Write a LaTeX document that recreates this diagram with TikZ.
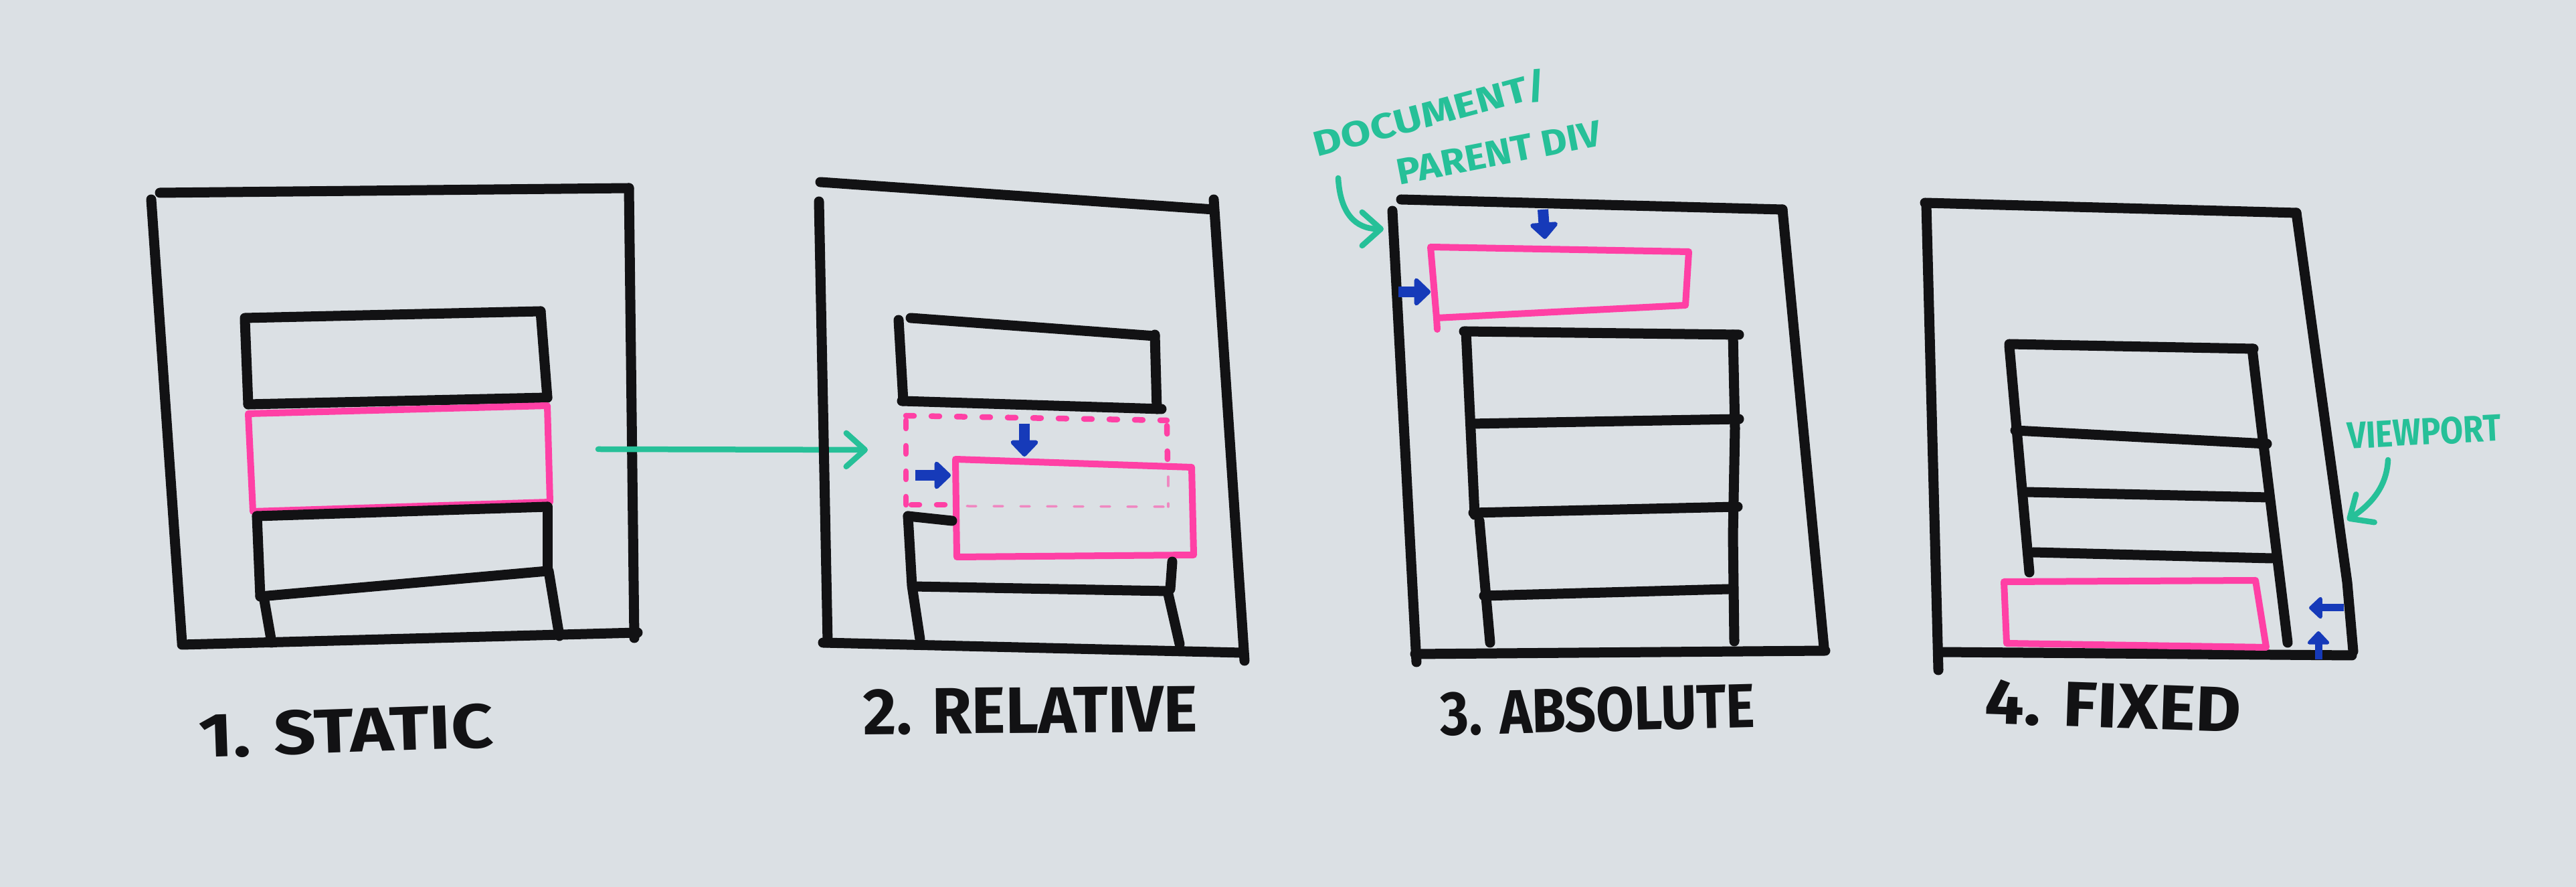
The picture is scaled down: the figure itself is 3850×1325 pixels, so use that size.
\documentclass[tikz,border=0pt]{standalone}
\usepackage{fontspec}
\setmainfont{Fira Sans}
\usepackage{graphicx}
\usetikzlibrary{arrows.meta}
\definecolor{boardbg}{RGB}{219,224,228}
\definecolor{inkblack}{RGB}{18,18,20}
\definecolor{markpink}{RGB}{255,64,165}
\definecolor{markteal}{RGB}{38,192,152}
\definecolor{markblue}{RGB}{22,58,185}
\tikzset{
  ink/.style={draw=inkblack, line width=1.5mm, line cap=round, line join=round},
  pinkink/.style={draw=markpink, line width=1mm, line cap=round, line join=round},
  pinkdash/.style={draw=markpink, line width=0.85mm, line cap=round, dash pattern=on 1.2mm off 2.6mm},
  pinkfaint/.style={draw=markpink!55!boardbg, line width=0.35mm, line cap=round, dash pattern=on 1.4mm off 2.6mm},
  tealarrow/.style={draw=markteal, line width=0.85mm, line cap=round, line join=round,
    -{Straight Barb[length=2.8mm, width=5mm, round]}},
  bluearrow/.style={draw=markblue, line width=1.6mm, -{Triangle[length=2.6mm, width=4.8mm, round]}},
  smallblue/.style={draw=markblue, line width=1.1mm, -{Triangle[length=2.1mm, width=3.8mm, round]}},
  caption/.style={text=inkblack, font=\bfseries, inner sep=0pt},
  teallabel/.style={text=markteal, font=\bfseries, inner sep=0pt},
}
\begin{document}
\begin{tikzpicture}[x=0.1mm, y=-0.1mm]
\fill[boardbg] (0,0) rectangle (3850,1325);
\useasboundingbox (0,0) rectangle (3850,1325);

% ---------- 1. static ----------
\draw[ink] (239,288) -- (940,281);
\draw[ink] (226,298) -- (272,960);
\draw[ink] (940,281) -- (948,953);
\draw[ink] (272,963) -- (953,945);
% stacked blocks
\draw[ink] (366,475) -- (808,465);
\draw[ink] (366,478) -- (371,604);
\draw[ink] (808,465) -- (818,594);
\draw[ink] (371,604) -- (818,594);
\draw[pinkink] (371,618) -- (818,606) -- (822,750) -- (378,764) -- cycle;
\draw[ink] (384,771) -- (818,757);
\draw[ink] (384,771) -- (389,891);
\draw[ink] (818,757) -- (818,853);
\draw[ink] (389,891) -- (818,853);
\draw[ink] (394,891) -- (406,960);
\draw[ink] (820,853) -- (836,950);
\coordinate (staticout) at (894,671);
\coordinate (relin) at (1297,672);
\draw[tealarrow] (staticout) -- (relin);

% ---------- 2. relative ----------
\draw[ink] (1226,272) -- (1814,313);
\draw[ink] (1224,301) -- (1237,960);
\draw[ink] (1814,298) -- (1860,987);
\draw[ink] (1230,960) -- (1855,975);
\draw[ink] (1343,478) -- (1350,599);
\draw[ink] (1361,475) -- (1726,502);
\draw[ink] (1726,500) -- (1729,611);
\draw[ink] (1348,599) -- (1736,611);
% original slot (dashed)
\draw[pinkdash] (1354,621) -- (1744,628);
\draw[pinkdash] (1354,628) -- (1354,754);
\draw[pinkdash] (1362,754) -- (1422,754);
\draw[pinkdash] (1744,636) -- (1745,690);
\draw[pinkfaint] (1445,756) -- (1740,757);
\draw[pinkfaint] (1746,712) -- (1746,757);
% shifted block
\draw[pinkink] (1428,686) -- (1781,698) -- (1784,829) -- (1430,832) -- cycle;
\draw[bluearrow] (1531,633) -- (1531,682);
\draw[bluearrow] (1368,710) -- (1421,710);
\draw[ink] (1357,771) -- (1423,778);
\draw[ink] (1357,771) -- (1363,875) -- (1375,955);
\draw[ink] (1752,839) -- (1749,880);
\draw[ink] (1364,876) -- (1745,883);
\draw[ink] (1745,883) -- (1763,962);

% ---------- 3. absolute ----------
\draw[ink] (2094,298) -- (2664,313);
\draw[ink] (2081,315) -- (2117,989);
\draw[ink] (2664,313) -- (2726,967);
\draw[ink] (2115,977) -- (2728,972);
\draw[pinkink] (2138,369) -- (2524,376) -- (2519,456) -- (2147,475) -- cycle;
\draw[pinkink] (2147,475) -- (2148,492);
\draw[bluearrow] (2306,313) -- (2309,357);
\draw[bluearrow] (2090,436) -- (2138,436);
\draw[ink] (2188,495) -- (2599,500);
\draw[ink] (2191,495) -- (2204,769);
\draw[ink] (2590,500) -- (2593,640) -- (2590,800) -- (2592,958);
\draw[ink] (2198,633) -- (2599,626);
\draw[ink] (2202,766) -- (2597,757);
\draw[ink] (2211,778) -- (2227,960);
\draw[ink] (2218,890) -- (2583,880);
\coordinate (docstart) at (2000,266);
\coordinate (docend) at (2068,342);
\draw[tealarrow] (docstart) .. controls (2003,318) and (2025,342) .. (docend);
\node[teallabel, rotate=15] (doclabel) at (2138,170) {\resizebox{36mm}{4.3mm}{DOCUMENT/}};
\node[teallabel, rotate=11] (parentlabel) at (2240,228) {\resizebox{31mm}{3.8mm}{PARENT DIV}};

% ---------- 4. fixed ----------
\draw[ink] (2877,303) -- (3432,318);
\draw[ink] (2879,306) -- (2897,1001);
\draw[ink] (3432,318) -- (3508,870) -- (3517,973);
\draw[ink] (2900,974) -- (3515,979);
\draw[ink] (3003,514) -- (3368,521);
\draw[ink] (3003,517) -- (3033,855);
\draw[ink] (3366,521) -- (3380,640) -- (3419,960);
\draw[ink] (3012,643) -- (3388,663);
\draw[ink] (3028,735) -- (3390,743);
\draw[ink] (3039,825) -- (3395,834);
\draw[pinkink] (2995,869) -- (3371,867) -- (3387,967) -- (2999,961) -- cycle;
\draw[smallblue] (3503,908) -- (3451,908);
\draw[smallblue] (3465,985) -- (3465,943);
\coordinate (viewstart) at (3569,687);
\coordinate (viewend) at (3508,777);
\draw[tealarrow] (viewstart) .. controls (3567,730) and (3540,756) .. (viewend);
\node[teallabel, rotate=3] (viewlabel) at (3623,645) {\resizebox{23mm}{4mm}{VIEWPORT}};

% ---------- captions ----------
\node[caption, rotate=2] (capstatic) at (517,1092) {\resizebox{44mm}{6.6mm}{1. STATIC}};
\node[caption, rotate=0.5] (caprelative) at (1540,1062) {\resizebox{50mm}{6.8mm}{2. RELATIVE}};
\node[caption, rotate=1.5] (capabsolute) at (2388,1060) {\resizebox{47mm}{6.6mm}{3. ABSOLUTE}};
\node[caption, rotate=-2] (capfixed) at (3158,1055) {\resizebox{38.3mm}{6.6mm}{4. FIXED}};
\end{tikzpicture}
\end{document}
